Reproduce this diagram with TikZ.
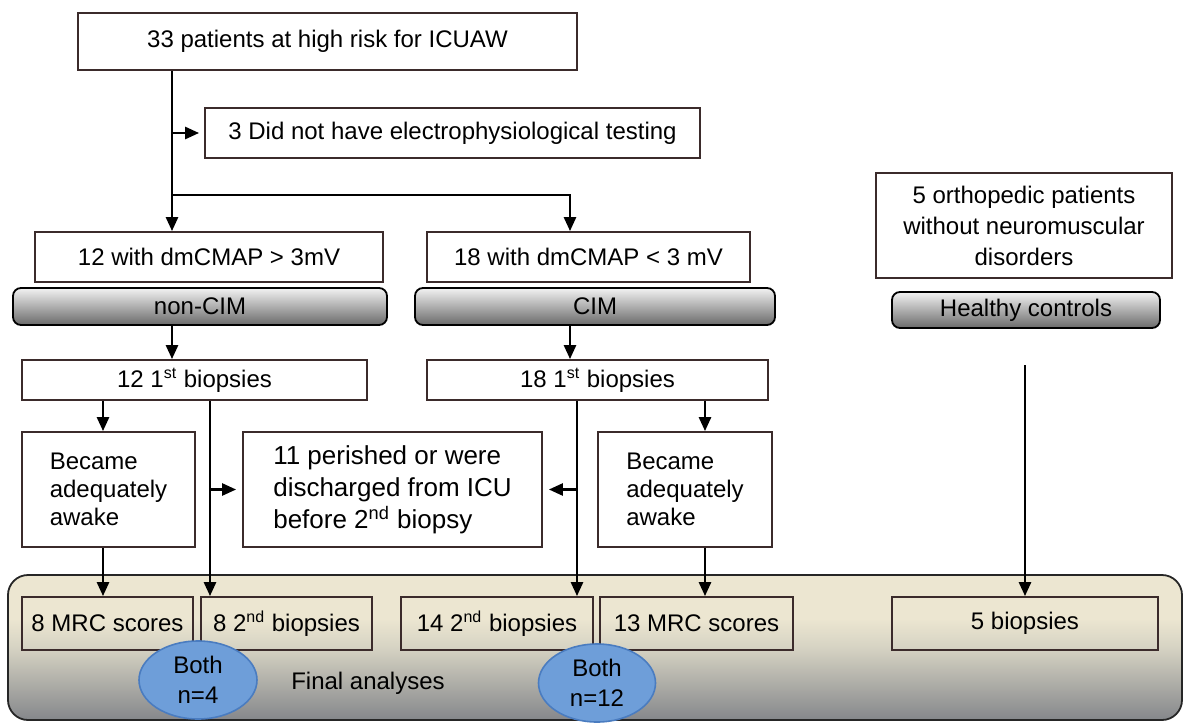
\documentclass[tikz,border=0pt]{standalone}
\usepackage{fontspec}
\setmainfont{Liberation Sans}
\usetikzlibrary{arrows.meta,shapes.geometric}
\definecolor{boxline}{HTML}{3B2B2B}
\definecolor{barlight}{HTML}{F2F2F2}
\definecolor{bardark}{HTML}{6A6A6A}
\definecolor{paneltop}{HTML}{ECE6D1}
\definecolor{panelmid}{HTML}{D6D3C3}
\definecolor{panelbot}{HTML}{85878B}
\definecolor{bothfill}{HTML}{6E9ED9}
\definecolor{bothline}{HTML}{4A7CC0}
\pgfdeclareverticalshading{panelfade}{100bp}{color(0bp)=(panelbot); color(25bp)=(panelbot); color(50bp)=(panelmid); color(60bp)=(paneltop); color(100bp)=(paneltop)}

\begin{document}
\begin{tikzpicture}[
		x=0.5pt,y=-0.5pt,
		font=\fontsize{12}{15}\selectfont,
		box/.style={draw=boxline,line width=0.9pt,inner sep=2pt},
		bar/.style={draw=black,line width=0.9pt,rounded corners=4pt,top color=barlight,bottom color=bardark},
		both/.style={ellipse,draw=bothline,line width=0.8pt,fill=bothfill,align=center,inner sep=0pt},
		arr/.style={line width=1.3pt,-{Triangle[length=7pt,width=6pt]}},
		ln/.style={line width=1.3pt}
	]
	\useasboundingbox (0,0) rectangle (1184,723);

	\node[shade,shading=panelfade,draw=black!85,line width=0.9pt,rounded corners=10pt,minimum width=587pt,minimum height=72.5pt] (panel) at (595,647.5) {};

	\node[box,minimum width=249.5pt,minimum height=28.5pt] (top) at (327.5,41.5) {33 patients at high risk for ICUAW};
	\node[box,minimum width=247.5pt,minimum height=25pt] (notest) at (452.5,133) {3 Did not have electrophysiological testing};
	\node[box,minimum width=174pt,minimum height=25pt] (dmhigh) at (209,257) {12 with dmCMAP > 3mV};
	\node[box,minimum width=161.5pt,minimum height=25pt] (dmlow) at (588.5,257) {18 with dmCMAP < 3 mV};
	\node[box,minimum width=148pt,minimum height=52.5pt,align=center,font=\fontsize{12}{15.5}\selectfont] (ortho) at (1024,225.5) {5 orthopedic patients\\without neuromuscular\\disorders};

	\node[bar,minimum width=187pt,minimum height=18.5pt] (noncim) at (200,306.5) {non-CIM};
	\node[bar,minimum width=180pt,minimum height=18.5pt] (cim) at (595,306.5) {CIM};
	\node[bar,minimum width=134pt,minimum height=18pt] (healthy) at (1026,310) {Healthy controls};

	\node[box,minimum width=172.5pt,minimum height=20pt] (bioA) at (194.5,380) {12 1\textsuperscript{st} biopsies};
	\node[box,minimum width=170.5pt,minimum height=20pt] (bioB) at (597.5,380) {18 1\textsuperscript{st} biopsies};

	\node[box,minimum width=86.5pt,minimum height=57.5pt,align=left,font=\fontsize{12}{14}\selectfont] (awakeA) at (108.5,489.5) {Became\\adequately\\awake};
	\node[box,minimum width=149.5pt,minimum height=57.5pt,align=left,font=\fontsize{13}{16}\selectfont] (perished) at (392.5,489.5) {11 perished or were\\discharged from ICU\\before 2\textsuperscript{nd} biopsy};
	\node[box,minimum width=87pt,minimum height=57.5pt,align=left,font=\fontsize{12}{14}\selectfont] (awakeB) at (685,489.5) {Became\\adequately\\awake};

	\node[box,minimum width=85.5pt,minimum height=26.5pt] (mrcA) at (107.5,623.5) {8 MRC scores};
	\node[box,minimum width=85.5pt,minimum height=26.5pt] (secA) at (286.5,623.5) {8 2\textsuperscript{nd} biopsies};
	\node[box,minimum width=96pt,minimum height=26.5pt] (secB) at (497,623.5) {14 2\textsuperscript{nd} biopsies};
	\node[box,minimum width=96.5pt,minimum height=26.5pt] (mrcB) at (696.5,623.5) {13 MRC scores};
	\node[box,minimum width=133pt,minimum height=26.5pt] (bioC) at (1025,623.5) {5 biopsies};

	\node[both,minimum width=59pt,minimum height=39pt] (bothA) at (198,680) {Both\\n=4};
	\node[both,minimum width=58.5pt,minimum height=39pt] (bothB) at (597,683) {Both\\n=12};
	\node (final) at (368,683) {Final analyses};

	\coordinate (trunk) at (172,195);
	\coordinate (cimx) at (570,195);
	\coordinate (leftx) at (103,0);
	\coordinate (midA) at (210,0);
	\coordinate (midB) at (577,0);
	\coordinate (rightx) at (705,0);
	\coordinate (hstart) at (1025,365);

	\draw[arr] (trunk |- top.south) -- (trunk |- dmhigh.north);
	\draw[arr,shorten >=2.5pt] (trunk |- notest.west) -- (notest.west);
	\draw[arr] (trunk) -- (cimx) -- (cimx |- dmlow.north);
	\draw[arr] (trunk |- noncim.south) -- (trunk |- bioA.north);
	\draw[arr] (cimx |- cim.south) -- (cimx |- bioB.north);

	\draw[arr] (leftx |- bioA.south) -- (leftx |- awakeA.north);
	\draw[arr] (leftx |- awakeA.south) -- (leftx |- mrcA.north);
	\draw[arr] (midA |- bioA.south) -- (midA |- secA.north);
	\draw[arr,shorten >=3pt] (midA |- perished.west) -- (perished.west);

	\draw[arr] (midB |- bioB.south) -- (midB |- secB.north);
	\draw[arr,shorten >=3pt] (midB |- perished.east) -- (perished.east);
	\draw[arr] (rightx |- bioB.south) -- (rightx |- awakeB.north);
	\draw[arr] (rightx |- awakeB.south) -- (rightx |- mrcB.north);

	\draw[arr] (hstart) -- (hstart |- bioC.north);
\end{tikzpicture}
\end{document}
